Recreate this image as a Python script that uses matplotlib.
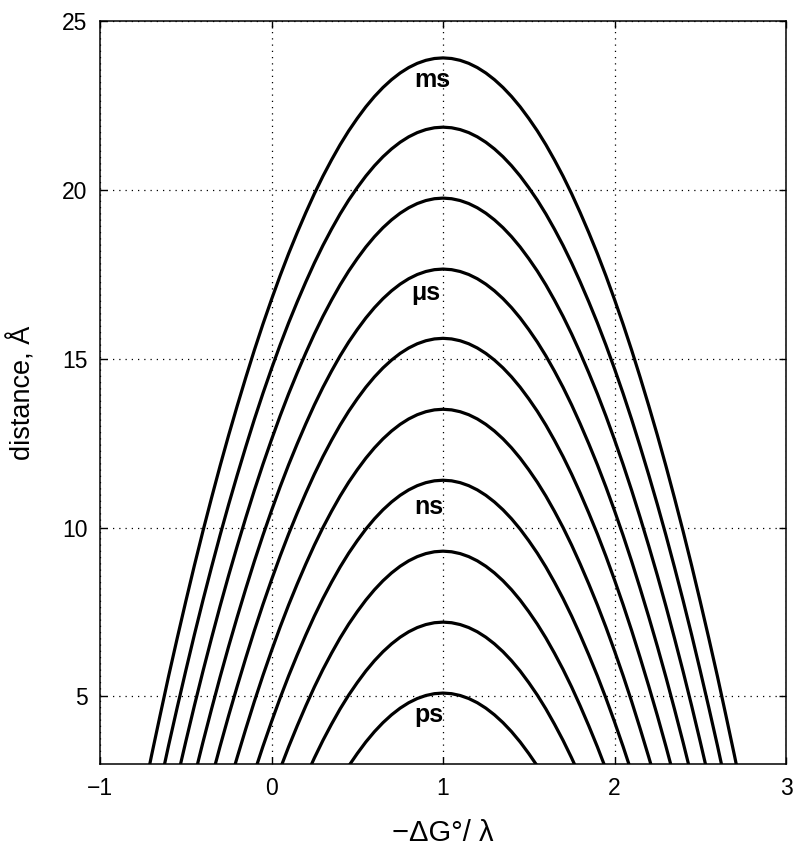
import matplotlib
matplotlib.use('Agg')
import matplotlib.pyplot as plt
import numpy

# peak distance (A) of each rate curve, all centred at -dG/lambda = 1
peak_x = 1.0
peaks = [5.1, 7.2, 9.3, 11.4, 13.5, 15.6, 17.65, 19.75, 21.85, 23.9]

# shared curve shape: offset from the peak along x and drop below the peak (A)
offsets = [0.0, 0.05, 0.10, 0.15, 0.20, 0.25, 0.30, 0.35, 0.40, 0.45,
           0.50, 0.55, 0.60, 0.65, 0.70, 0.75, 0.80, 0.85, 0.90, 0.95,
           1.00, 1.05, 1.10, 1.15, 1.20, 1.25, 1.30, 1.35, 1.40, 1.45,
           1.50, 1.55, 1.60, 1.65, 1.70, 1.75, 1.80]
drops = [0.0, 0.018, 0.072, 0.161, 0.286, 0.447, 0.644, 0.876, 1.144, 1.448,
         1.79, 2.16, 2.57, 3.02, 3.50, 4.02, 4.58, 5.17, 5.79, 6.45,
         7.15, 7.88, 8.65, 9.46, 10.30, 11.17, 12.08, 13.03, 14.01, 15.03,
         16.09, 17.18, 18.30, 19.47, 20.66, 21.90, 23.17]

# time-scale labels
label_text = ['ms', '\u03bcs', 'ns', 'ps']
label_x = [0.94, 0.90, 0.92, 0.92]
label_y = [23.25, 16.95, 10.6, 4.45]

if __name__ == '__main__':
  plt.rcParams['font.family'] = ['Liberation Sans', 'DejaVu Sans']

  fig = plt.figure(figsize=(8, 8.57), dpi=100)
  ax = fig.add_axes([0.125, 0.1085, 0.8575, 0.8673])

  off = numpy.array(offsets)
  dr = numpy.array(drops)
  xs = numpy.concatenate([peak_x - off[::-1], peak_x + off[1:]])
  for p in peaks:
    ys = numpy.concatenate([p - dr[::-1], p - dr[1:]])
    ax.plot(xs, ys, color='black', linewidth=2.3, solid_joinstyle='round')

  for t, x, y in zip(label_text, label_x, label_y):
    ax.text(x, y, t, fontsize=18, fontweight='bold', ha='center', va='center')

  ax.set_xlim(-1, 3)
  ax.set_ylim(3, 25)
  ax.set_xticks([-1, 0, 1, 2, 3])
  ax.set_yticks([5, 10, 15, 20, 25])
  ax.set_xticklabels(['\u22121', '0', '1', '2', '3'])
  ax.grid(True, color='black', linestyle=(0, (1, 4)), linewidth=0.9)
  ax.tick_params(direction='in', length=5, width=1, labelsize=16.5,
                 top=True, right=True, pad=9)
  for s in ax.spines.values():
    s.set_linewidth(1.1)

  ax.set_xlabel('\u2212\u0394G\u00b0/ \u03bb', fontsize=21, labelpad=14)
  ax.set_ylabel('distance, \u00c5', fontsize=19.5, labelpad=18)

  plt.savefig('out.png', dpi=100)
